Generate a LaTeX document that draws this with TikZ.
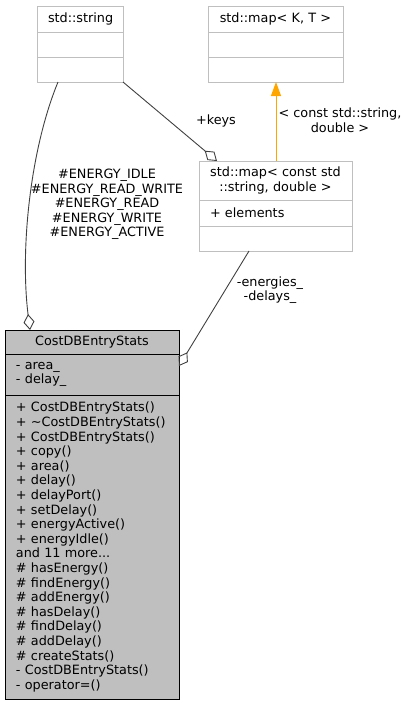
\documentclass[tikz,border=0pt]{standalone}
\usepackage{fontspec}
\setmainfont{DejaVu Sans}
\usetikzlibrary{positioning,arrows.meta}
\definecolor{boxgray}{HTML}{BFBFBF}
\definecolor{edgegray}{HTML}{404040}
\definecolor{tmplorange}{HTML}{FFA500}
\newcommand\umlfont{\fontsize{12.8}{14.6}\selectfont}
\tikzset{
    classpart/.style={rectangle, draw=boxgray, fill=white, line width=1pt, outer sep=0pt, inner xsep=11pt, inner ysep=0pt, align=left, font=\umlfont},
    classtitle/.style={classpart, align=center, anchor=north west},
    mainpart/.style={classpart, draw=black, fill=boxgray},
    maintitle/.style={mainpart, align=center, anchor=north west},
    aggr/.style={draw=edgegray, line width=0.9pt, -{Diamond[open, length=16pt, width=11pt, line width=0.9pt]}},
    tmpl/.style={draw=tmplorange, line width=1pt, -{Triangle[length=14pt, width=10pt]}},
    edgelabel/.style={inner sep=0pt, align=center, font=\umlfont}
}
\begin{document}
\begin{tikzpicture}[x=1pt, y=-1pt]
    \useasboundingbox (0,0) rectangle (409,705);

    \node(strtitle) [classtitle, text width=64pt, minimum height=26pt] at (37,6) {std::string};
    \node(strattr) [classpart, text width=64pt, minimum height=25pt, below=0pt of strtitle] {};
    \node(strmeth) [classpart, text width=64pt, minimum height=25pt, below=0pt of strattr] {};

    \node(mapkttitle) [classtitle, text width=113pt, minimum height=26pt] at (208,6) {std::map< K, T >};
    \node(mapktattr) [classpart, text width=113pt, minimum height=25pt, below=0pt of mapkttitle] {};
    \node(mapktmeth) [classpart, text width=113pt, minimum height=25pt, below=0pt of mapktattr] {};

    \node(mapcstitle) [classtitle, text width=131pt, minimum height=39pt] at (199,161) {std::map< const std\\::string, double >};
    \node(mapcsattr) [classpart, text width=131pt, minimum height=26pt, below=0pt of mapcstitle] {+ elements};
    \node(mapcsmeth) [classpart, text width=131pt, minimum height=25pt, below=0pt of mapcsattr] {};

    \node(costtitle) [maintitle, text width=152pt, minimum height=24pt] at (5,330) {CostDBEntryStats};
    \node(costattr) [mainpart, text width=152pt, minimum height=41pt, below=0pt of costtitle] {- area\_\\- delay\_};
    \node(costmeth) [mainpart, text width=152pt, minimum height=304pt, below=0pt of costattr] {
        + CostDBEntryStats()\\
        + \textasciitilde CostDBEntryStats()\\
        + CostDBEntryStats()\\
        + copy()\\
        + area()\\
        + delay()\\
        + delayPort()\\
        + setDelay()\\
        + energyActive()\\
        + energyIdle()\\
        and 11 more...\\
        \# hasEnergy()\\
        \# findEnergy()\\
        \# addEnergy()\\
        \# hasDelay()\\
        \# findDelay()\\
        \# addDelay()\\
        \# createStats()\\
        - CostDBEntryStats()\\
        - operator=()
    };

    \draw[aggr] ([xshift=21pt]strmeth.south west) .. controls (30,150) and (20,250) .. ([xshift=25pt]costtitle.north west);
    \draw[aggr] (strmeth.south east) -- ([xshift=18pt]mapcstitle.north west);
    \draw[tmpl] ([xshift=77pt]mapcstitle.north west) -- ([xshift=68pt]mapktmeth.south west);
    \draw[aggr] ([xshift=50pt]mapcsmeth.south west) -- ([yshift=-12pt]costattr.north east);

    \node(keyslabel) [edgelabel] at (216,121) {+keys};
    \node(tmpllabel) [edgelabel] at (340,120) {< const std::string,\\double >};
    \node(memblabel) [edgelabel] at (270,290) {-energies\_\\-delays\_};
    \node(constlabel) [edgelabel] at (107,204.5) {\#ENERGY\_IDLE\\\#ENERGY\_READ\_WRITE\\\#ENERGY\_READ\\\#ENERGY\_WRITE\\\#ENERGY\_ACTIVE};
\end{tikzpicture}
\end{document}
